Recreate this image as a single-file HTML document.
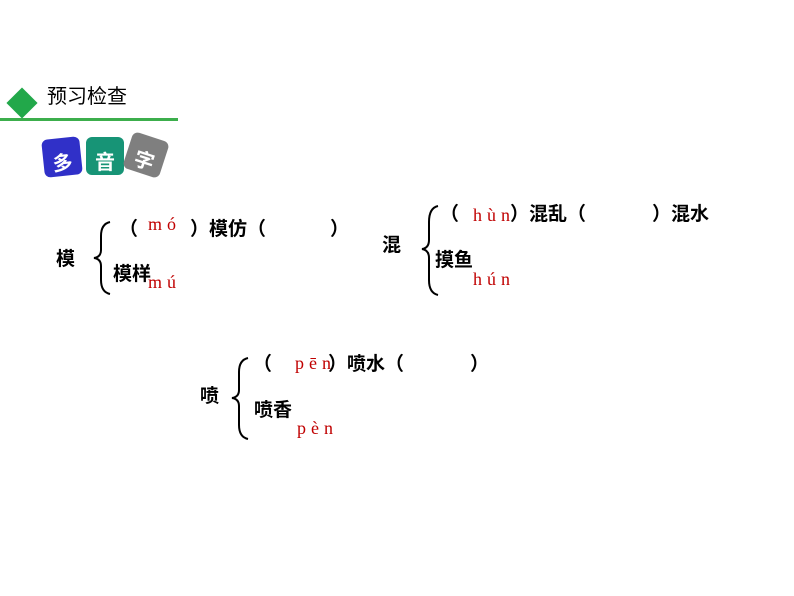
<!DOCTYPE html>
<html><head><meta charset="utf-8"><style>
body{margin:0;width:794px;height:596px;background:#fff;position:relative;overflow:hidden;font-family:"Liberation Sans","Noto Sans CJK SC",sans-serif;}
.t{position:absolute;font-size:19px;color:#000;line-height:1;white-space:nowrap;font-weight:bold}
.r{position:absolute;font-family:"Liberation Serif","Noto Serif CJK SC",serif;color:#c00000;font-size:18px;letter-spacing:5px;line-height:1;white-space:nowrap}
.tile{position:absolute;width:38px;height:38px;border-radius:6px;color:#fff;font-size:20px;font-weight:bold;text-align:center;box-sizing:border-box;line-height:20px;padding-top:16px}
</style></head><body>
<div style="position:absolute;left:11px;top:92px;width:22px;height:22px;background:#22a84a;transform:rotate(45deg)"></div>
<div class="t" style="left:47px;top:87px;font-size:20px;font-weight:normal">预习检查</div>
<div style="position:absolute;left:0;top:118px;width:178px;height:3px;background:#3cae4c"></div>
<div class="tile" style="left:43px;top:138px;background:#3030c8;transform:rotate(-6deg)">多</div>
<div class="tile" style="left:86px;top:137px;background:#179476;">音</div>
<div class="tile" style="left:127px;top:136px;background:#7f7f7f;transform:rotate(18deg)">字</div>

<svg width="794" height="596" style="position:absolute;left:0;top:0" fill="none" stroke="#000" stroke-width="2">
<path d="M110 222 Q101 224 101 236 L101 250 Q101 257 94 258 Q101 259 101 266 L101 280 Q101 292 110 294"/>
<path d="M438 206 Q429 208 429 222 L429 240 Q429 248 422 249 Q429 250 429 258 L429 280 Q429 293 438 295"/>
<path d="M248 358 Q239 360 239 372 L239 390 Q239 397 232 398 Q239 399 239 406 L239 425 Q239 437 248 439"/>
</svg>

<div class="t" style="left:56px;top:250px">模</div>
<div class="t" style="left:119px;top:220px">（</div>
<div class="r" style="left:148px;top:215px">mó</div>
<div class="t" style="left:190px;top:220px">）模仿（</div>
<div class="t" style="left:330px;top:220px">）</div>
<div class="t" style="left:113px;top:265px">模样</div>
<div class="r" style="left:148px;top:273px">mú</div>

<div class="t" style="left:382px;top:236px">混</div>
<div class="t" style="left:440px;top:205px">（</div>
<div class="r" style="left:473px;top:206px">hùn</div>
<div class="t" style="left:510px;top:205px">）混乱（</div>
<div class="t" style="left:652px;top:205px">）混水</div>
<div class="t" style="left:435px;top:251px">摸鱼</div>
<div class="r" style="left:473px;top:270px">hún</div>

<div class="t" style="left:200px;top:387px">喷</div>
<div class="t" style="left:253px;top:355px">（</div>
<div class="r" style="left:295px;top:354px">pēn</div>
<div class="t" style="left:328px;top:355px">）喷水（</div>
<div class="t" style="left:470px;top:355px">）</div>
<div class="t" style="left:254px;top:401px">喷香</div>
<div class="r" style="left:297px;top:419px">pèn</div>
</body></html>
